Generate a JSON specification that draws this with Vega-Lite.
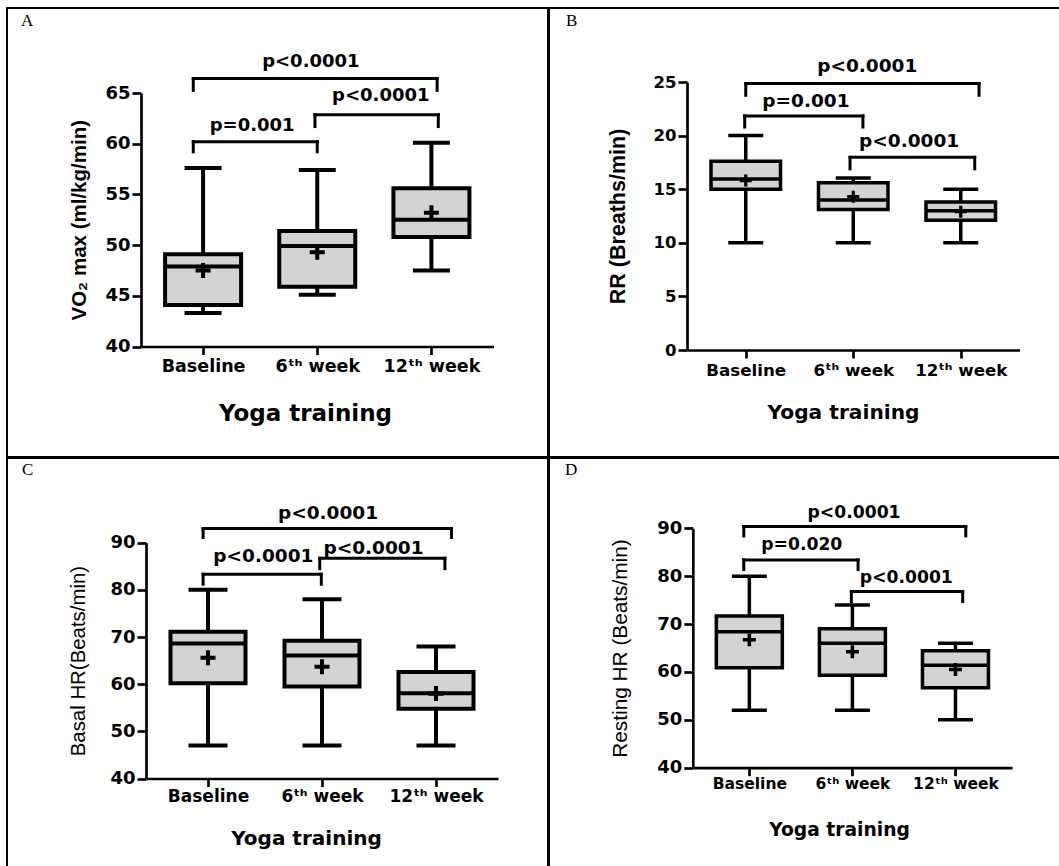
{
  "$schema": "https://vega.github.io/schema/vega-lite/v6.json",
  "padding": {"left": 6, "top": 7, "right": -3, "bottom": -3},
  "background": "white",
  "spacing": -2,
  "datasets": {
    "boxes": [
      {"panel": "A", "group": "Baseline", "gi": 1, "min": 43.3, "q1": 44.1, "median": 47.9, "q3": 49.1, "max": 57.6, "mean": 47.5},
      {"panel": "A", "group": "6th week", "gi": 2, "min": 45.1, "q1": 45.9, "median": 49.9, "q3": 51.4, "max": 57.4, "mean": 49.3},
      {"panel": "A", "group": "12th week", "gi": 3, "min": 47.5, "q1": 50.8, "median": 52.5, "q3": 55.6, "max": 60.1, "mean": 53.2},
      {"panel": "B", "group": "Baseline", "gi": 1, "min": 10, "q1": 15.0, "median": 15.95, "q3": 17.6, "max": 20, "mean": 15.8},
      {"panel": "B", "group": "6th week", "gi": 2, "min": 10, "q1": 13.1, "median": 14.0, "q3": 15.6, "max": 16.05, "mean": 14.3},
      {"panel": "B", "group": "12th week", "gi": 3, "min": 10, "q1": 12.1, "median": 13.0, "q3": 13.8, "max": 15, "mean": 12.9},
      {"panel": "C", "group": "Baseline", "gi": 1, "min": 47, "q1": 60.2, "median": 68.6, "q3": 71.1, "max": 80, "mean": 65.6},
      {"panel": "C", "group": "6th week", "gi": 2, "min": 47, "q1": 59.5, "median": 66.1, "q3": 69.2, "max": 78, "mean": 63.7},
      {"panel": "C", "group": "12th week", "gi": 3, "min": 47, "q1": 54.8, "median": 58.1, "q3": 62.6, "max": 68, "mean": 58.0},
      {"panel": "D", "group": "Baseline", "gi": 1, "min": 52, "q1": 60.9, "median": 68.4, "q3": 71.7, "max": 80, "mean": 66.7},
      {"panel": "D", "group": "6th week", "gi": 2, "min": 52, "q1": 59.3, "median": 66.0, "q3": 69.0, "max": 74, "mean": 64.2},
      {"panel": "D", "group": "12th week", "gi": 3, "min": 50, "q1": 56.7, "median": 61.4, "q3": 64.4, "max": 66, "mean": 60.5}
    ],
    "brackets": [
      {"panel": "A", "label": "p<0.0001", "x1": 0.914, "x2": 3.05, "by": 66.42, "bd": 65.26, "tx": 1.944, "ty": 68.05},
      {"panel": "A", "label": "p<0.0001", "x1": 1.98, "x2": 3.06, "by": 62.85, "bd": 61.69, "tx": 2.557, "ty": 64.74},
      {"panel": "A", "label": "p=0.001", "x1": 0.914, "x2": 2.0, "by": 60.2, "bd": 59.2, "tx": 1.43, "ty": 61.75},
      {"panel": "B", "label": "p<0.0001", "x1": 1.0, "x2": 3.17, "by": 24.85, "bd": 23.76, "tx": 2.13, "ty": 26.49},
      {"panel": "B", "label": "p=0.001", "x1": 0.99, "x2": 2.09, "by": 21.84, "bd": 20.8, "tx": 1.56, "ty": 23.23},
      {"panel": "B", "label": "p<0.0001", "x1": 1.97, "x2": 3.13, "by": 17.97, "bd": 16.9, "tx": 2.52, "ty": 19.52},
      {"panel": "C", "label": "p<0.0001", "x1": 0.957, "x2": 3.136, "by": 93.0, "bd": 91.1, "tx": 2.053, "ty": 96.36},
      {"panel": "C", "label": "p<0.0001", "x1": 0.957, "x2": 1.994, "by": 83.3, "bd": 81.2, "tx": 1.486, "ty": 87.18},
      {"panel": "C", "label": "p<0.0001", "x1": 1.98, "x2": 3.078, "by": 86.7, "bd": 84.5, "tx": 2.452, "ty": 88.94},
      {"panel": "D", "label": "p<0.0001", "x1": 0.946, "x2": 3.1, "by": 90.35, "bd": 88.4, "tx": 2.016, "ty": 93.27},
      {"panel": "D", "label": "p=0.020", "x1": 0.946, "x2": 2.055, "by": 83.4, "bd": 81.4, "tx": 1.509, "ty": 86.52},
      {"panel": "D", "label": "p<0.0001", "x1": 1.99, "x2": 3.07, "by": 76.8, "bd": 74.7, "tx": 2.523, "ty": 79.69}
    ]
  },
  "vconcat": [
    {
      "spacing": -2,
      "hconcat": [
        {
          "width": 541, "height": 449,
          "title": {"text": "A", "dx": 14, "offset": -22},
          "layer": [
            {"data": {"name": "boxes"}, "transform": [{"filter": "datum.panel === 'A'"}],
             "mark": {"type": "rule", "color": "black", "strokeWidth": 4},
             "encoding": {
               "x": {"field": "gi", "type": "quantitative", "scale": {"domain": [0.5, 3.5], "range": [134, 486.5], "nice": false, "zero": false},
                     "axis": {"title": "Yoga training", "values": [1, 2, 3], "labelExpr": "datum.value == 1 ? 'Baseline' : datum.value == 2 ? '6ᵗʰ week' : '12ᵗʰ week'", "offset": -110.5, "labelFontSize": 17.5, "labelPadding": 3, "titleFontSize": 23, "titlePadding": 27, "titleX": 298}},
               "y": {"field": "min", "type": "quantitative", "scale": {"domain": [40, 65], "range": [338.5, 85], "nice": false, "zero": false},
                     "axis": {"title": "VO₂ max (ml/kg/min)", "values": [40, 45, 50, 55, 60, 65], "offset": -134, "labelFontSize": 18, "labelPadding": 2, "tickSize": 9, "titleFont": "Liberation Sans", "titleFontWeight": "bold", "titleFontSize": 20.5, "titlePadding": 15}},
               "y2": {"field": "max"}}},
            {"data": {"name": "boxes"}, "transform": [{"filter": "datum.panel === 'A'"}],
             "mark": {"type": "tick", "orient": "horizontal", "size": 37, "thickness": 4, "color": "black", "opacity": 1},
             "encoding": {"x": {"field": "gi", "type": "quantitative"}, "y": {"field": "min", "type": "quantitative"}}},
            {"data": {"name": "boxes"}, "transform": [{"filter": "datum.panel === 'A'"}],
             "mark": {"type": "tick", "orient": "horizontal", "size": 37, "thickness": 4, "color": "black", "opacity": 1},
             "encoding": {"x": {"field": "gi", "type": "quantitative"}, "y": {"field": "max", "type": "quantitative"}}},
            {"data": {"name": "boxes"}, "transform": [{"filter": "datum.panel === 'A'"}],
             "mark": {"type": "bar", "width": 76, "fill": "#d3d3d3", "stroke": "black", "strokeWidth": 4},
             "encoding": {"x": {"field": "gi", "type": "quantitative"}, "y": {"field": "q1", "type": "quantitative"}, "y2": {"field": "q3"}}},
            {"data": {"name": "boxes"}, "transform": [{"filter": "datum.panel === 'A'"}],
             "mark": {"type": "tick", "orient": "horizontal", "size": 76, "thickness": 4, "color": "black", "opacity": 1},
             "encoding": {"x": {"field": "gi", "type": "quantitative"}, "y": {"field": "median", "type": "quantitative"}}},
            {"data": {"name": "boxes"}, "transform": [{"filter": "datum.panel === 'A'"}],
             "mark": {"type": "point", "shape": "M-1,-0.27H-0.27V-1H0.27V-0.27H1V0.27H0.27V1H-0.27V0.27H-1Z", "size": 225, "filled": true, "color": "black", "opacity": 1},
             "encoding": {"x": {"field": "gi", "type": "quantitative"}, "y": {"field": "mean", "type": "quantitative"}}},
            {"data": {"name": "brackets"}, "transform": [{"filter": "datum.panel === 'A'"}],
             "mark": {"type": "rule", "color": "black", "strokeWidth": 3, "strokeCap": "square"},
             "encoding": {"x": {"field": "x1", "type": "quantitative"}, "x2": {"field": "x2"}, "y": {"field": "by", "type": "quantitative"}}},
            {"data": {"name": "brackets"}, "transform": [{"filter": "datum.panel === 'A'"}, {"fold": ["x1", "x2"], "as": ["end", "xe"]}],
             "mark": {"type": "rule", "color": "black", "strokeWidth": 3, "strokeCap": "square"},
             "encoding": {"x": {"field": "xe", "type": "quantitative"}, "y": {"field": "by", "type": "quantitative"}, "y2": {"field": "bd"}}},
            {"data": {"name": "brackets"}, "transform": [{"filter": "datum.panel === 'A'"}],
             "mark": {"type": "text", "font": "DejaVu Sans", "fontWeight": "bold", "fontSize": 18, "color": "black"},
             "encoding": {"x": {"field": "tx", "type": "quantitative"}, "y": {"field": "ty", "type": "quantitative"}, "text": {"field": "label"}}}
          ]
        },
        {
          "width": 513, "height": 449,
          "title": {"text": "B", "dx": 17, "offset": -22},
          "layer": [
            {"data": {"name": "boxes"}, "transform": [{"filter": "datum.panel === 'B'"}],
             "mark": {"type": "rule", "color": "black", "strokeWidth": 3.5},
             "encoding": {
               "x": {"field": "gi", "type": "quantitative", "scale": {"domain": [0.5, 3.5], "range": [138, 470.5], "nice": false, "zero": false},
                     "axis": {"title": "Yoga training", "values": [1, 2, 3], "labelExpr": "datum.value == 1 ? 'Baseline' : datum.value == 2 ? '6ᵗʰ week' : '12ᵗʰ week'", "offset": -107, "labelFontSize": 16.7, "labelPadding": 4, "titleFontSize": 20.2, "titlePadding": 24, "titleX": 294}},
               "y": {"field": "min", "type": "quantitative", "scale": {"domain": [0, 25], "range": [342, 74], "nice": false, "zero": false},
                     "axis": {"title": "RR (Breaths/min)", "values": [0, 5, 10, 15, 20, 25], "offset": -138, "labelFontSize": 16.5, "labelPadding": 2, "tickSize": 9, "titleFont": "Liberation Sans", "titleFontWeight": "bold", "titleFontSize": 21.5, "titlePadding": 24}},
               "y2": {"field": "max"}}},
            {"data": {"name": "boxes"}, "transform": [{"filter": "datum.panel === 'B'"}],
             "mark": {"type": "tick", "orient": "horizontal", "size": 35, "thickness": 3.5, "color": "black", "opacity": 1},
             "encoding": {"x": {"field": "gi", "type": "quantitative"}, "y": {"field": "min", "type": "quantitative"}}},
            {"data": {"name": "boxes"}, "transform": [{"filter": "datum.panel === 'B'"}],
             "mark": {"type": "tick", "orient": "horizontal", "size": 35, "thickness": 3.5, "color": "black", "opacity": 1},
             "encoding": {"x": {"field": "gi", "type": "quantitative"}, "y": {"field": "max", "type": "quantitative"}}},
            {"data": {"name": "boxes"}, "transform": [{"filter": "datum.panel === 'B'"}],
             "mark": {"type": "bar", "width": 69.5, "fill": "#d3d3d3", "stroke": "black", "strokeWidth": 3.5},
             "encoding": {"x": {"field": "gi", "type": "quantitative"}, "y": {"field": "q1", "type": "quantitative"}, "y2": {"field": "q3"}}},
            {"data": {"name": "boxes"}, "transform": [{"filter": "datum.panel === 'B'"}],
             "mark": {"type": "tick", "orient": "horizontal", "size": 69.5, "thickness": 3.5, "color": "black", "opacity": 1},
             "encoding": {"x": {"field": "gi", "type": "quantitative"}, "y": {"field": "median", "type": "quantitative"}}},
            {"data": {"name": "boxes"}, "transform": [{"filter": "datum.panel === 'B'"}],
             "mark": {"type": "point", "shape": "M-1,-0.27H-0.27V-1H0.27V-0.27H1V0.27H0.27V1H-0.27V0.27H-1Z", "size": 144, "filled": true, "color": "black", "opacity": 1},
             "encoding": {"x": {"field": "gi", "type": "quantitative"}, "y": {"field": "mean", "type": "quantitative"}}},
            {"data": {"name": "brackets"}, "transform": [{"filter": "datum.panel === 'B'"}],
             "mark": {"type": "rule", "color": "black", "strokeWidth": 3, "strokeCap": "square"},
             "encoding": {"x": {"field": "x1", "type": "quantitative"}, "x2": {"field": "x2"}, "y": {"field": "by", "type": "quantitative"}}},
            {"data": {"name": "brackets"}, "transform": [{"filter": "datum.panel === 'B'"}, {"fold": ["x1", "x2"], "as": ["end", "xe"]}],
             "mark": {"type": "rule", "color": "black", "strokeWidth": 3, "strokeCap": "square"},
             "encoding": {"x": {"field": "xe", "type": "quantitative"}, "y": {"field": "by", "type": "quantitative"}, "y2": {"field": "bd"}}},
            {"data": {"name": "brackets"}, "transform": [{"filter": "datum.panel === 'B'"}],
             "mark": {"type": "text", "font": "DejaVu Sans", "fontWeight": "bold", "fontSize": 18.5, "color": "black"},
             "encoding": {"x": {"field": "tx", "type": "quantitative"}, "y": {"field": "ty", "type": "quantitative"}, "text": {"field": "label"}}}
          ]
        }
      ]
    },
    {
      "spacing": -2,
      "hconcat": [
        {
          "width": 541, "height": 411,
          "title": {"text": "C", "dx": 15, "offset": -21},
          "layer": [
            {"data": {"name": "boxes"}, "transform": [{"filter": "datum.panel === 'C'"}],
             "mark": {"type": "rule", "color": "black", "strokeWidth": 4},
             "encoding": {
               "x": {"field": "gi", "type": "quantitative", "scale": {"domain": [0.5, 3.5], "range": [139, 491], "nice": false, "zero": false},
                     "axis": {"title": "Yoga training", "values": [1, 2, 3], "labelExpr": "datum.value == 1 ? 'Baseline' : datum.value == 2 ? '6ᵗʰ week' : '12ᵗʰ week'", "offset": -90.5, "labelFontSize": 17, "labelPadding": 2, "titleFontSize": 20, "titlePadding": 23.5, "titleX": 299}},
               "y": {"field": "min", "type": "quantitative", "scale": {"domain": [40, 90], "range": [320.5, 84.7], "nice": false, "zero": false},
                     "axis": {"title": "Basal HR(Beats/min)", "values": [40, 50, 60, 70, 80, 90], "offset": -139, "labelFontSize": 18, "labelPadding": 2, "tickSize": 9, "titleFont": "Liberation Sans", "titleFontWeight": "normal", "titleFontSize": 20.4, "titlePadding": 21}},
               "y2": {"field": "max"}}},
            {"data": {"name": "boxes"}, "transform": [{"filter": "datum.panel === 'C'"}],
             "mark": {"type": "tick", "orient": "horizontal", "size": 39, "thickness": 4, "color": "black", "opacity": 1},
             "encoding": {"x": {"field": "gi", "type": "quantitative"}, "y": {"field": "min", "type": "quantitative"}}},
            {"data": {"name": "boxes"}, "transform": [{"filter": "datum.panel === 'C'"}],
             "mark": {"type": "tick", "orient": "horizontal", "size": 39, "thickness": 4, "color": "black", "opacity": 1},
             "encoding": {"x": {"field": "gi", "type": "quantitative"}, "y": {"field": "max", "type": "quantitative"}}},
            {"data": {"name": "boxes"}, "transform": [{"filter": "datum.panel === 'C'"}],
             "mark": {"type": "bar", "width": 75, "fill": "#d3d3d3", "stroke": "black", "strokeWidth": 4},
             "encoding": {"x": {"field": "gi", "type": "quantitative"}, "y": {"field": "q1", "type": "quantitative"}, "y2": {"field": "q3"}}},
            {"data": {"name": "boxes"}, "transform": [{"filter": "datum.panel === 'C'"}],
             "mark": {"type": "tick", "orient": "horizontal", "size": 75, "thickness": 4, "color": "black", "opacity": 1},
             "encoding": {"x": {"field": "gi", "type": "quantitative"}, "y": {"field": "median", "type": "quantitative"}}},
            {"data": {"name": "boxes"}, "transform": [{"filter": "datum.panel === 'C'"}],
             "mark": {"type": "point", "shape": "M-1,-0.27H-0.27V-1H0.27V-0.27H1V0.27H0.27V1H-0.27V0.27H-1Z", "size": 225, "filled": true, "color": "black", "opacity": 1},
             "encoding": {"x": {"field": "gi", "type": "quantitative"}, "y": {"field": "mean", "type": "quantitative"}}},
            {"data": {"name": "brackets"}, "transform": [{"filter": "datum.panel === 'C'"}],
             "mark": {"type": "rule", "color": "black", "strokeWidth": 3, "strokeCap": "square"},
             "encoding": {"x": {"field": "x1", "type": "quantitative"}, "x2": {"field": "x2"}, "y": {"field": "by", "type": "quantitative"}}},
            {"data": {"name": "brackets"}, "transform": [{"filter": "datum.panel === 'C'"}, {"fold": ["x1", "x2"], "as": ["end", "xe"]}],
             "mark": {"type": "rule", "color": "black", "strokeWidth": 3, "strokeCap": "square"},
             "encoding": {"x": {"field": "xe", "type": "quantitative"}, "y": {"field": "by", "type": "quantitative"}, "y2": {"field": "bd"}}},
            {"data": {"name": "brackets"}, "transform": [{"filter": "datum.panel === 'C'"}],
             "mark": {"type": "text", "font": "DejaVu Sans", "fontWeight": "bold", "fontSize": 18.5, "color": "black"},
             "encoding": {"x": {"field": "tx", "type": "quantitative"}, "y": {"field": "ty", "type": "quantitative"}, "text": {"field": "label"}}}
          ]
        },
        {
          "width": 513, "height": 411,
          "title": {"text": "D", "dx": 16, "offset": -21},
          "layer": [
            {"data": {"name": "boxes"}, "transform": [{"filter": "datum.panel === 'D'"}],
             "mark": {"type": "rule", "color": "black", "strokeWidth": 3.5},
             "encoding": {
               "x": {"field": "gi", "type": "quantitative", "scale": {"domain": [0.5, 3.5], "range": [143.8, 463], "nice": false, "zero": false},
                     "axis": {"title": "Yoga training", "values": [1, 2, 3], "labelExpr": "datum.value == 1 ? 'Baseline' : datum.value == 2 ? '6ᵗʰ week' : '12ᵗʰ week'", "offset": -101.3, "labelFontSize": 15.5, "labelPadding": 1, "titleFontSize": 18.7, "titlePadding": 28, "titleX": 290}},
               "y": {"field": "min", "type": "quantitative", "scale": {"domain": [40, 90], "range": [309.7, 70.3], "nice": false, "zero": false},
                     "axis": {"title": "Resting HR (Beats/min)", "values": [40, 50, 60, 70, 80, 90], "offset": -143.8, "labelFontSize": 18, "labelPadding": 2, "tickSize": 9, "titleFont": "Liberation Sans", "titleFontWeight": "normal", "titleFontSize": 20.8, "titlePadding": 26}},
               "y2": {"field": "max"}}},
            {"data": {"name": "boxes"}, "transform": [{"filter": "datum.panel === 'D'"}],
             "mark": {"type": "tick", "orient": "horizontal", "size": 35, "thickness": 3.5, "color": "black", "opacity": 1},
             "encoding": {"x": {"field": "gi", "type": "quantitative"}, "y": {"field": "min", "type": "quantitative"}}},
            {"data": {"name": "boxes"}, "transform": [{"filter": "datum.panel === 'D'"}],
             "mark": {"type": "tick", "orient": "horizontal", "size": 35, "thickness": 3.5, "color": "black", "opacity": 1},
             "encoding": {"x": {"field": "gi", "type": "quantitative"}, "y": {"field": "max", "type": "quantitative"}}},
            {"data": {"name": "boxes"}, "transform": [{"filter": "datum.panel === 'D'"}],
             "mark": {"type": "bar", "width": 66, "fill": "#d3d3d3", "stroke": "black", "strokeWidth": 3.5},
             "encoding": {"x": {"field": "gi", "type": "quantitative"}, "y": {"field": "q1", "type": "quantitative"}, "y2": {"field": "q3"}}},
            {"data": {"name": "boxes"}, "transform": [{"filter": "datum.panel === 'D'"}],
             "mark": {"type": "tick", "orient": "horizontal", "size": 66, "thickness": 3.5, "color": "black", "opacity": 1},
             "encoding": {"x": {"field": "gi", "type": "quantitative"}, "y": {"field": "median", "type": "quantitative"}}},
            {"data": {"name": "boxes"}, "transform": [{"filter": "datum.panel === 'D'"}],
             "mark": {"type": "point", "shape": "M-1,-0.27H-0.27V-1H0.27V-0.27H1V0.27H0.27V1H-0.27V0.27H-1Z", "size": 169, "filled": true, "color": "black", "opacity": 1},
             "encoding": {"x": {"field": "gi", "type": "quantitative"}, "y": {"field": "mean", "type": "quantitative"}}},
            {"data": {"name": "brackets"}, "transform": [{"filter": "datum.panel === 'D'"}],
             "mark": {"type": "rule", "color": "black", "strokeWidth": 3, "strokeCap": "square"},
             "encoding": {"x": {"field": "x1", "type": "quantitative"}, "x2": {"field": "x2"}, "y": {"field": "by", "type": "quantitative"}}},
            {"data": {"name": "brackets"}, "transform": [{"filter": "datum.panel === 'D'"}, {"fold": ["x1", "x2"], "as": ["end", "xe"]}],
             "mark": {"type": "rule", "color": "black", "strokeWidth": 3, "strokeCap": "square"},
             "encoding": {"x": {"field": "xe", "type": "quantitative"}, "y": {"field": "by", "type": "quantitative"}, "y2": {"field": "bd"}}},
            {"data": {"name": "brackets"}, "transform": [{"filter": "datum.panel === 'D'"}],
             "mark": {"type": "text", "font": "DejaVu Sans", "fontWeight": "bold", "fontSize": 17.2, "color": "black"},
             "encoding": {"x": {"field": "tx", "type": "quantitative"}, "y": {"field": "ty", "type": "quantitative"}, "text": {"field": "label"}}}
          ]
        }
      ]
    }
  ],
  "config": {
    "view": {"stroke": "black", "strokeWidth": 2},
    "axis": {
      "domainColor": "black", "domainWidth": 2.7, "tickColor": "black", "tickWidth": 2.7, "tickSize": 8,
      "labelColor": "black", "labelFont": "DejaVu Sans", "labelFontWeight": "bold", "labelOverlap": false, "labelFlush": false,
      "titleColor": "black", "titleFont": "DejaVu Sans", "titleFontWeight": "bold", "grid": false
    },
    "title": {"anchor": "start", "frame": "group", "font": "Liberation Serif", "fontSize": 17, "fontWeight": "normal", "color": "black", "baseline": "alphabetic"}
  }
}
